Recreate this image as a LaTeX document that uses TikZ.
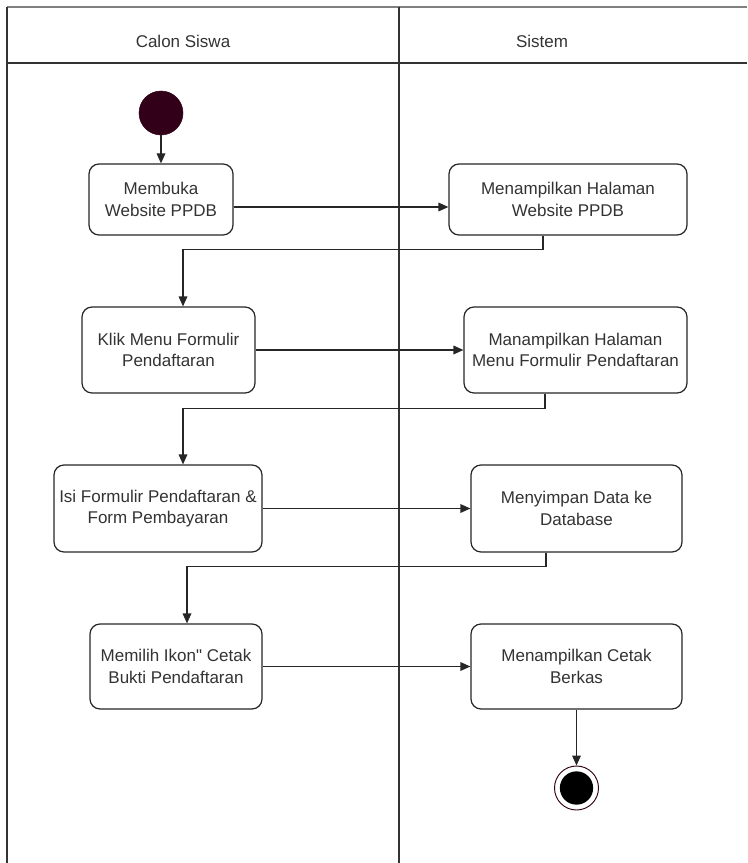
\documentclass[tikz,border=0pt]{standalone}
\usepackage{fontspec}
\setmainfont{Liberation Sans}[Ligatures=TeXOff]
\usetikzlibrary{arrows.meta, calc}
\definecolor{startfill}{RGB}{51,0,25}
\definecolor{textgray}{RGB}{51,51,51}
\tikzset{
  actbox/.style={rectangle, draw=black!85, fill=white, rounded corners=7.5pt,
                 align=center, text=textgray, inner sep=0pt, line width=0.9pt,
                 font=\fontsize{12.75}{16.3}\selectfont},
  lanelabel/.style={text=textgray, font=\fontsize{12.75}{16.3}\selectfont},
  laneline/.style={draw=black!80, line width=0.9pt},
  startnode/.style={circle, fill=startfill, draw=startfill, minimum size=33pt, inner sep=0pt},
  endnode/.style={circle, draw=startfill, fill=white, line width=0.7pt,
                  minimum size=33pt, inner sep=0pt,
                  path picture={\fill[black] (path picture bounding box.center) circle (12.5pt);}},
  arrow/.style={-{Triangle[length=7.5pt, width=6.5pt]}, draw=black!85, line width=0.9pt},
}

\begin{document}
\begin{tikzpicture}[x=0.75pt, y=-0.75pt]
  \useasboundingbox (0,0) rectangle (747,863);

  % --- Swimlanes ---
  \draw[laneline, draw=black!50] (7,7) -- (747,7);
  \draw[laneline] (7,63) -- (747,63);
  \draw[laneline] (7,7) -- (7,863);
  \draw[laneline] (399,7) -- (399,863);
  \node[lanelabel] (siswa) at (183,41) {Calon Siswa};
  \node[lanelabel] (sistem) at (542,41) {Sistem};

  % --- Calon Siswa ---
  \node[startnode] (start) at (161,113) {};
  \node[actbox, minimum width=108pt, minimum height=53.25pt] (buka) at (161,199.5)
    {Membuka\\Website PPDB};
  \node[actbox, minimum width=129.75pt, minimum height=64.5pt] (klik) at (168.5,350)
    {Klik Menu Formulir\\Pendaftaran};
  \node[actbox, minimum width=156pt, minimum height=65.25pt] (isi) at (158,508.5)
    {Isi Formulir Pendaftaran \&\\Form Pembayaran};
  \node[actbox, minimum width=129pt, minimum height=63.75pt] (pilih) at (176,666.5)
    {Memilih Ikon" Cetak\\Bukti Pendaftaran};

  % --- Sistem ---
  \node[actbox, minimum width=178.5pt, minimum height=53.25pt] (tampil) at (568,199.5)
    {Menampilkan Halaman\\Website PPDB};
  \node[actbox, minimum width=167.25pt, minimum height=64.5pt] (menu) at (575.5,350)
    {Manampilkan Halaman\\Menu Formulir Pendaftaran};
  \node[actbox, minimum width=158.25pt, minimum height=65.25pt] (simpan) at (576.5,508.5)
    {Menyimpan Data ke\\Database};
  \node[actbox, minimum width=158.25pt, minimum height=63.75pt] (cetak) at (576.5,666.5)
    {Menampilkan Cetak\\Berkas};
  \node[endnode] (finish) at (576.5,788) {};

  % --- Arrows ---
  \draw[arrow] (start) -- (buka);
  \draw[arrow] ($(buka.east)+(0,7.5)$) -- ($(tampil.west)+(0,7.5)$);
  \draw[arrow] ($(tampil.south)+(-25,0)$) -- ++(0,14) -| ($(klik.north)+(14.5,0)$);
  \draw[arrow] (klik) -- (menu);
  \draw[arrow] ($(menu.south)+(-30.5,0)$) -- ++(0,15) -| ($(isi.north)+(25,0)$);
  \draw[arrow] (isi) -- (simpan);
  \draw[arrow] ($(simpan.south)+(-30.5,0)$) -- ++(0,14) -| ($(pilih.north)+(11,0)$);
  \draw[arrow] (pilih) -- (cetak);
  \draw[arrow] (cetak) -- (finish);
\end{tikzpicture}
\end{document}
